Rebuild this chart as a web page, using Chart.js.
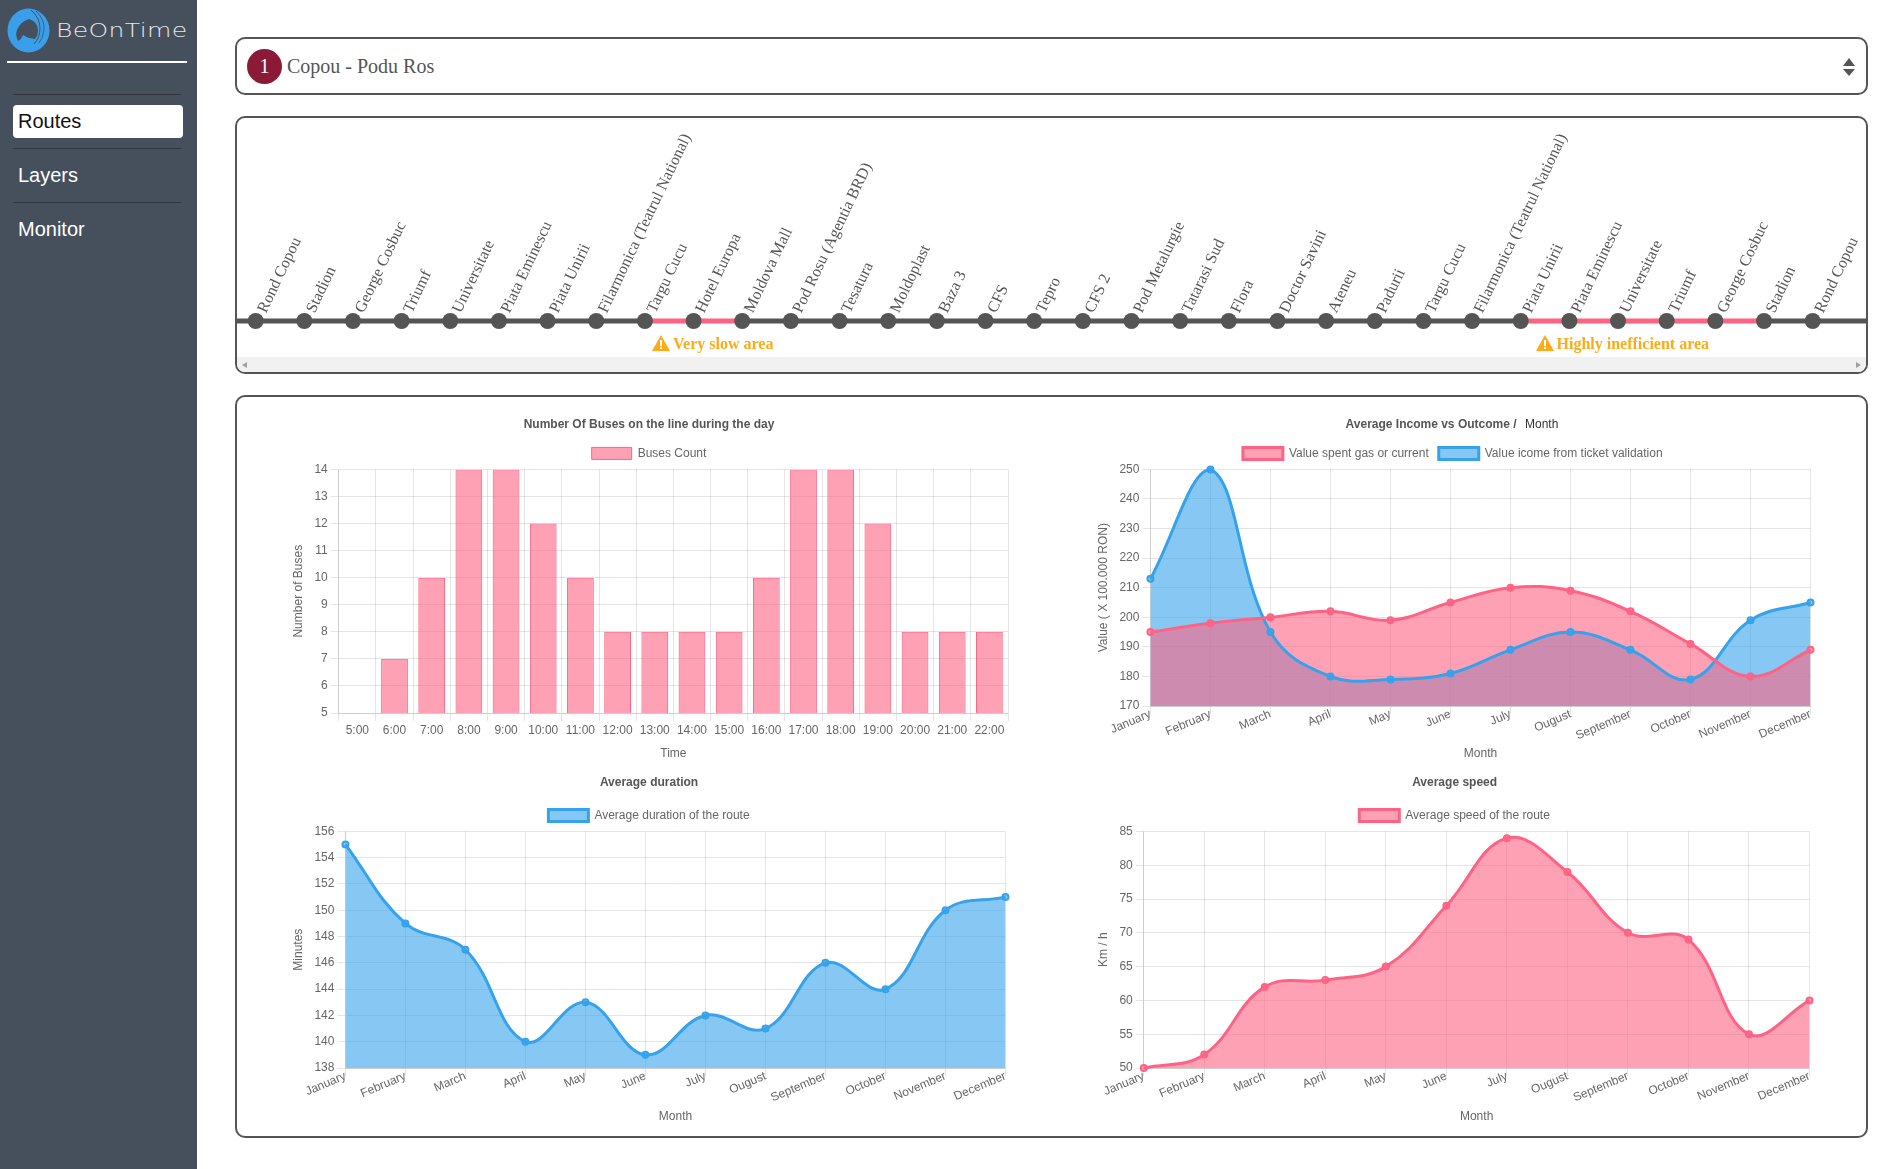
<!DOCTYPE html>
<html lang="en">
  <head>
    <meta charset="UTF-8" />
    <title>BeOnTime</title>
    <script src="https://cdn.jsdelivr.net/npm/chart.js@4/dist/chart.umd.min.js"></script>
    <style>
      html,
      body {
        margin: 0;
        padding: 0;
        background: #fff;
        overflow: hidden;
      }

      #page {
        position: relative;
        width: 1895px;
        height: 1169px;
        overflow: hidden;
        font-family: "Liberation Sans", sans-serif;
      }

      #sidebar {
        position: absolute;
        left: 0;
        top: 0;
        width: 197px;
        height: 1169px;
        background: #464f5c;
      }

      #logo {
        position: absolute;
        left: 7px;
        top: 8px;
      }

      #brand {
        position: absolute;
        left: 56px;
        top: 18px;
        color: #e6e8ea;
        font-family: "DejaVu Sans", sans-serif;
        font-weight: 200;
        font-size: 20px;
        line-height: 24px;
        letter-spacing: 0.3px;
        transform: scaleX(1.25);
        transform-origin: left center;
      }

      #brandLine {
        position: absolute;
        left: 7px;
        top: 61px;
        width: 180px;
        height: 2px;
        background: #fff;
      }

      .sep {
        position: absolute;
        left: 13px;
        width: 168px;
        height: 1px;
        background: #31363f;
      }

      .nav {
        position: absolute;
        left: 18px;
        font-size: 20px;
        color: #fff;
        line-height: 24px;
      }

      #routesBox {
        position: absolute;
        left: 13px;
        top: 105px;
        width: 170px;
        height: 33px;
        background: #fff;
        border-radius: 4px;
      }

      .panel {
        position: absolute;
        left: 235px;
        width: 1629px;
        border: 2px solid #555;
        border-radius: 10px;
        box-sizing: content-box;
      }

      #selectPanel {
        top: 37px;
        height: 54px;
      }

      #routeNum {
        position: absolute;
        left: 10px;
        top: 10px;
        width: 35px;
        height: 35px;
        border-radius: 50%;
        background: #8b1a36;
        color: #fff;
        font: 20px/35px "Liberation Serif", serif;
        text-align: center;
      }

      #routeName {
        position: absolute;
        left: 50px;
        top: 14px;
        font: 20px/26px "Liberation Serif", serif;
        color: #555;
      }

      .arrow {
        position: absolute;
        left: 1606px;
        width: 0;
        height: 0;
        border-left: 6.5px solid transparent;
        border-right: 6.5px solid transparent;
      }

      #stopsPanel {
        top: 116px;
        height: 254px;
        overflow: hidden;
      }

      #stopsChart {
        position: absolute;
        left: -30.26px;
        top: 1px;
      }

      .warn {
        position: absolute;
        top: 216px;
        font: bold 16px/20px "Liberation Serif", serif;
        color: #fdab18;
        white-space: nowrap;
      }

      .warn svg {
        vertical-align: -2px;
        margin-right: 3px;
      }

      #scrollbar {
        position: absolute;
        left: 0;
        right: 0;
        bottom: 0;
        height: 15px;
        background: #f1f1f1;
      }

      .sb {
        position: absolute;
        top: 5px;
        width: 0;
        height: 0;
        border-top: 3px solid transparent;
        border-bottom: 3px solid transparent;
      }

      #chartsPanel {
        top: 395px;
        height: 739px;
      }

      .chartBox {
        position: absolute;
      }

      #monthPick {
        position: absolute;
        left: 1525px;
        top: 417px;
        font-size: 12px;
        line-height: 14px;
        color: #333;
      }
    </style>
  </head>

  <body>
    <div id="page">
      <div id="sidebar">
        <svg id="logo" width="43" height="45" viewBox="0 0 43 45">
          <ellipse cx="21.5" cy="22.5" rx="21" ry="22" fill="#3a9fea" />
          <path d="M22 11 Q31 14 31 22 Q31 28 28 31 L17 29 L11 33 Q8 27 10 22 Q13 14 22 11 Z" fill="#464f5c" />
          <path d="M12 35 L16 27 L27 33 Q20 37 12 35 Z" fill="#3a9fea" />
          <path d="M24 2 Q33 10 33 20 Q33 30 27 36" fill="none" stroke="#464f5c" stroke-width="1" />
          <path d="M29 3 Q38 12 37 22 Q36 30 32 35" fill="none" stroke="#464f5c" stroke-width="0.8" />
        </svg>
        <div id="brand">BeOnTime</div>
        <div id="brandLine"></div>
        <div class="sep" style="top: 94px"></div>
        <div id="routesBox"></div>
        <div class="nav" style="top: 109px; color: #111">Routes</div>
        <div class="sep" style="top: 148px"></div>
        <div class="nav" style="top: 163px">Layers</div>
        <div class="sep" style="top: 202px"></div>
        <div class="nav" style="top: 217px">Monitor</div>
      </div>

      <div id="selectPanel" class="panel">
        <div id="routeNum">1</div>
        <div id="routeName">Copou - Podu Ros</div>
        <div class="arrow" style="top: 19px; border-bottom: 8px solid #555"></div>
        <div class="arrow" style="top: 30px; border-top: 7px solid #555"></div>
      </div>

      <div id="stopsPanel" class="panel">
        <canvas id="stopsChart" width="1703" height="440"></canvas>
        <div class="warn" style="left: 415px">
          <svg width="18" height="16" viewBox="0 0 18 16"><path d="M9 0 L18 16 L0 16 Z" fill="#fdab18" /><rect x="8" y="5" width="2" height="6" fill="#fff" /><rect x="8" y="12" width="2" height="2" fill="#fff" /></svg>Very slow area
        </div>
        <div class="warn" style="left: 1298.5px">
          <svg width="18" height="16" viewBox="0 0 18 16"><path d="M9 0 L18 16 L0 16 Z" fill="#fdab18" /><rect x="8" y="5" width="2" height="6" fill="#fff" /><rect x="8" y="12" width="2" height="2" fill="#fff" /></svg>Highly inefficient area
        </div>
        <div id="scrollbar">
          <div class="sb" style="left: 5px; border-right: 5px solid #a0a0a0"></div>
          <div class="sb" style="right: 5px; border-left: 5px solid #a0a0a0"></div>
        </div>
      </div>

      <div id="chartsPanel" class="panel"></div>

      <div class="chartBox" style="left: 247px; top: 407px">
        <canvas id="busesChart" width="804" height="360"></canvas>
      </div>
      <div class="chartBox" style="left: 1050px; top: 407px">
        <canvas id="incomeChart" width="804" height="360"></canvas>
      </div>
      <div class="chartBox" style="left: 247px; top: 765px">
        <canvas id="durationChart" width="804" height="365"></canvas>
      </div>
      <div class="chartBox" style="left: 1051px; top: 765px">
        <canvas id="speedChart" width="804" height="365"></canvas>
      </div>
      <div id="monthPick">Month</div>
    </div>

    <script>
      const stopNames = [
        "", "Rond Copou", "Stadion", "George Cosbuc", "Triumf", "Universitate", "Piata Eminescu",
        "Piata Unirii", "Filarmonica (Teatrul National)", "Targu Cucu", "Hotel Europa",
        "Moldova Mall", "Pod Rosu (Agentia BRD)", "Tesatura", "Moldoplast", "Baza 3", "CFS",
        "Tepro", "CFS 2", "Pod Metalurgie", "Tatarasi Sud", "Flora", "Doctor Savini", "Ateneu",
        "Padurii", "Targu Cucu", "Filarmonica (Teatrul National)", "Piata Unirii",
        "Piata Eminescu", "Universitate", "Triumf", "George Cosbuc", "Stadion", "Rond Copou", "", "",
      ];
      const stopLevels = [
        0, 0, 0, 0, 0, 0, 0, 0, 0, 0, 0, 0, 0, 0, 0, 0, 0, 0,
        0, 0, 0, 0, 0, 0, 0, 0, 0, 0, 0, 0, 0, 0, 0, 0, 0, 0,
      ];
      const slowSegments = [9, 10, 27, 28, 29, 30, 31];

      const hours = [
        "5:00", "6:00", "7:00", "8:00", "9:00", "10:00", "11:00", "12:00", "13:00",
        "14:00", "15:00", "16:00", "17:00", "18:00", "19:00", "20:00", "21:00", "22:00",
      ];
      const busesCount = [5, 7, 10, 14, 14, 12, 10, 8, 8, 8, 8, 10, 14, 14, 12, 8, 8, 8];

      const months = [
        "January", "February", "March", "April", "May", "June", "July",
        "Ougust", "September", "October", "November", "December",
      ];
      const valueSpent = [195, 198, 200, 202, 199, 205, 210, 209, 202, 191, 180, 189];
      const valueIncome = [213, 250, 195, 180, 179, 181, 189, 195, 189, 179, 199, 205];
      const avgDuration = [155, 149, 147, 140, 143, 139, 142, 141, 146, 144, 150, 151];
      const avgSpeed = [50, 52, 62, 63, 65, 74, 84, 79, 70, 69, 55, 60];

      const pink = "#ff6384";
      const pinkFill = "rgba(255, 99, 132, 0.6)";
      const blue = "#36a2eb";
      const blueFill = "rgba(54, 162, 235, 0.6)";

      Chart.defaults.font.family = '"Liberation Sans", Arial, sans-serif';
      Chart.defaults.font.size = 12;
      Chart.defaults.color = "#666";
      Chart.defaults.animation = false;

      function lineSet(label, data, color, fill) {
        return {
          label: label,
          data: data,
          borderColor: color,
          backgroundColor: fill,
          borderWidth: 3,
          pointBackgroundColor: fill,
          pointBorderColor: color,
          pointBorderWidth: 2,
          pointRadius: 3,
          tension: 0.4,
          fill: "origin",
          clip: false,
        };
      }

      // pads holds the layout numbers tuned per chart: xHeight forces the plot bottom
      function chartOptions(title, xTitle, yTitle, yMin, yMax, step, pads, rotated) {
        return {
          responsive: false,
          layout: { padding: { left: pads.left, right: pads.right, top: 0, bottom: 0 } },
          plugins: {
            filler: { drawTime: "beforeDatasetsDraw" },
            tooltip: { enabled: false },
            title: {
              display: true,
              text: title,
              color: "#555",
              font: { size: 12, weight: "bold" },
              padding: { top: 10, bottom: pads.titleBottom },
            },
            legend: {
              labels: { boxWidth: 40, boxHeight: 12, color: "#666", padding: 10 },
            },
          },
          scales: {
            x: {
              title: { display: true, text: xTitle, padding: 6 },
              grid: { color: "rgba(0, 0, 0, 0.1)" },
              afterFit: (scale) => {
                scale.height = pads.xHeight;
              },
              ticks: {
                autoSkip: false,
                minRotation: rotated ? 23 : 0,
                maxRotation: rotated ? 23 : 0,
                padding: rotated ? -7 : 2,
              },
            },
            y: {
              min: yMin,
              max: yMax,
              title: {
                display: true,
                text: yTitle,
                padding: { top: pads.yTitleTop, bottom: pads.yTitle },
              },
              grid: { color: "rgba(0, 0, 0, 0.1)" },
              ticks: { stepSize: step, padding: 3 },
            },
          },
        };
      }

      new Chart(document.getElementById("stopsChart"), {
        type: "line",
        data: {
          labels: stopNames,
          datasets: [
            {
              data: stopLevels,
              borderColor: "#555",
              borderWidth: 5,
              clip: false,
              pointBackgroundColor: "#555",
              pointBorderWidth: 0,
              pointRadius: (ctx) => (stopNames[ctx.dataIndex] ? 8 : 0),
              segment: {
                borderColor: (ctx) => (slowSegments.includes(ctx.p0DataIndex) ? pink : "#555"),
              },
            },
          ],
        },
        options: {
          responsive: false,
          layout: { padding: 0 },
          plugins: { legend: { display: false }, tooltip: { enabled: false } },
          scales: {
            x: {
              position: "top",
              grid: { display: false },
              border: { display: false },
              afterFit: (scale) => {
                scale.height = 202;
                scale.paddingLeft = 0;
                scale.paddingRight = 0;
              },
              ticks: {
                autoSkip: false,
                minRotation: 64.5,
                maxRotation: 64.5,
                padding: -3,
                labelOffset: 24,
                color: "#555",
                font: { family: '"Liberation Serif", serif', size: 16 },
              },
            },
            y: { display: false, min: -1, max: 0 },
          },
        },
      });

      new Chart(document.getElementById("busesChart"), {
        type: "bar",
        data: {
          labels: hours,
          datasets: [
            {
              label: "Buses Count",
              data: busesCount,
              backgroundColor: pinkFill,
              borderColor: pink,
              borderWidth: 1,
            },
          ],
        },
        options: chartOptions(
          "Number Of Buses on the line during the day", "Time", "Number of Buses", 5, 14, 1,
          { left: 43, right: 43, titleBottom: 6, xHeight: 54, yTitleTop: 1, yTitle: 6 },
          false
        ),
      });

      new Chart(document.getElementById("incomeChart"), {
        type: "line",
        data: {
          labels: months,
          datasets: [
            lineSet("Value spent gas or current", valueSpent, pink, pinkFill),
            lineSet("Value icome from ticket validation", valueIncome, blue, blueFill),
          ],
        },
        options: chartOptions(
          "Average Income vs Outcome /\u00a0\u00a0\u00a0\u00a0\u00a0\u00a0\u00a0\u00a0\u00a0\u00a0\u00a0\u00a0\u00a0",
          "Month", "Value ( X 100.000 RON)", 170, 250, 10,
          { left: 45, right: 43.5, titleBottom: 6, xHeight: 61, yTitleTop: 1, yTitle: 6 },
          true
        ),
      });

      new Chart(document.getElementById("durationChart"), {
        type: "line",
        data: {
          labels: months,
          datasets: [lineSet("Average duration of the route", avgDuration, blue, blueFill)],
        },
        options: chartOptions(
          "Average duration", "Month", "Minutes", 138, 156, 2,
          { left: 45.5, right: 45.5, titleBottom: 10, xHeight: 62, yTitleTop: -1.5, yTitle: 6 },
          true
        ),
      });

      new Chart(document.getElementById("speedChart"), {
        type: "line",
        data: {
          labels: months,
          datasets: [lineSet("Average speed of the route", avgSpeed, pink, pinkFill)],
        },
        options: chartOptions(
          "Average speed", "Month", "Km / h", 50, 85, 5,
          { left: 48.7, right: 45.5, titleBottom: 10, xHeight: 62, yTitleTop: -3.2, yTitle: 5.5 },
          true
        ),
      });
    </script>
  </body>
</html>
